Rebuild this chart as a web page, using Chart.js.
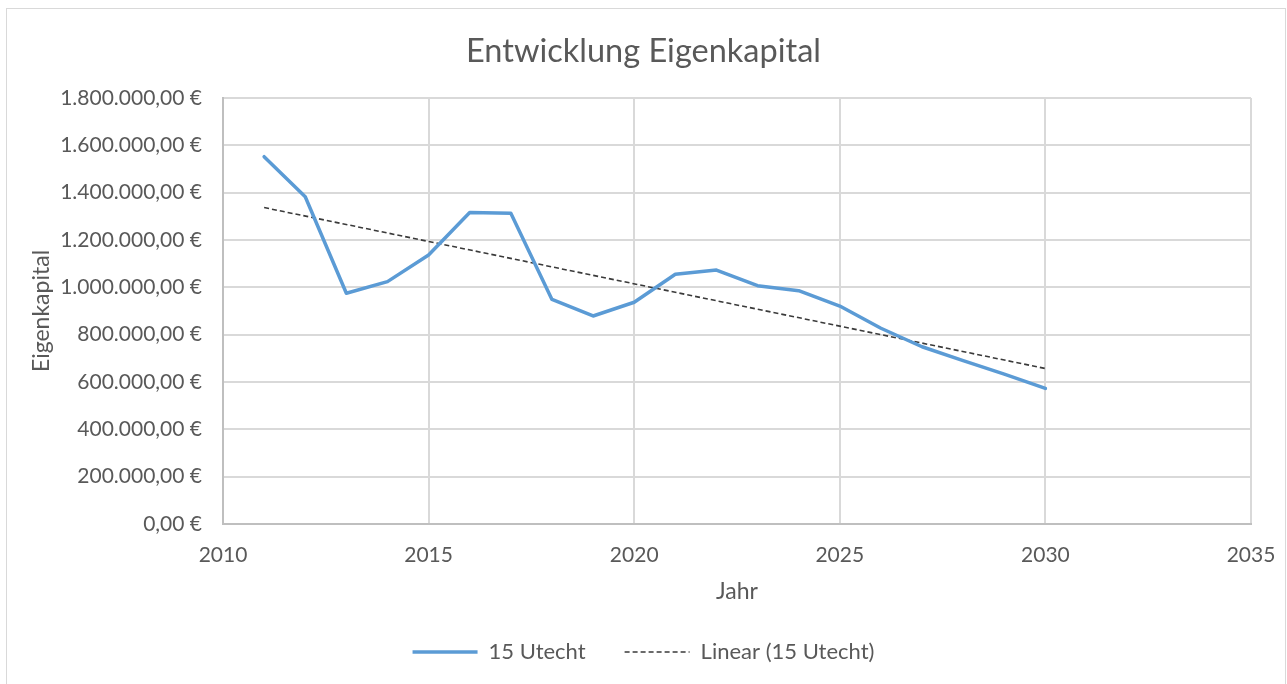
<!DOCTYPE html>
<html><head><meta charset="utf-8">
<script src="https://cdn.jsdelivr.net/npm/chart.js@4.4.1/dist/chart.umd.min.js"></script>
<style>
html,body{margin:0;padding:0;background:#fff;overflow:hidden}
#wrap{position:relative;width:1287px;height:684px}
#frame{position:absolute;left:6px;top:8px;width:1280px;height:720px;border:1px solid #d9d9d9;box-sizing:border-box}
canvas{position:absolute;left:0;top:0}
</style></head><body>
<div id="wrap"><div id="frame"></div><canvas id="c" width="1287" height="684"></canvas></div>
<script>
// ---- data ----
const years = [2011,2012,2013,2014,2015,2016,2017,2018,2019,2020,2021,2022,2023,2024,2025,2026,2027,2028,2029,2030];
const equity = [1552000,1383000,975000,1024000,1137000,1316000,1313000,949000,879000,937000,1055000,1073000,1007000,986000,921000,827000,749000,690000,633000,573000];
const trendYears = [2011, 2030];
const trendValues = [1337000, 657000];
const xTickValues = [2010,2015,2020,2025,2030,2035];
const yTickValues = [0,200000,400000,600000,800000,1000000,1200000,1400000,1600000,1800000];
const seriesName = '15 Utecht';
const trendName = 'Linear (15 Utecht)';
const titleText = 'Entwicklung Eigenkapital';
const xTitle = 'Jahr';
const yTitle = 'Eigenkapital';

// ---- layout constants ----
const W = 1287, H = 684;
const AREA = {left:223, right:1251, top:98, bottom:524};
const FONT = 'Lato';
const TXT = '#595959';
const titleSize = 32.5, tickSize = 21, axisTitleSize = 23, legendSize = 22;
const titleCenterY = 52, legendCenterY = 652, xTitleCenterY = 592, yTitleCenterX = 42;
const legendGap = 39;

function deEuro(v){
  const s = Math.round(v).toString().replace(/\B(?=(\d{3})+(?!\d))/g,'.');
  return s + ',00 €';
}

function draw(){
  const titleLH = titleSize*1.2;
  const titlePadTop = titleCenterY - titleLH/2;
  const titlePadBottom = AREA.top - titlePadTop - titleLH;
  const itemH = legendSize;
  const padB = H - legendCenterY - 10 - itemH/2;
  const legendTop = H - padB - (itemH + legendGap + 10);
  const xAxisH = legendTop - AREA.bottom;
  const axLH = axisTitleSize*1.2;
  const xTitlePadBottom = legendTop - xTitleCenterY - axLH/2;
  const tickLH = tickSize*1.2;
  const baseLabels = Chart.defaults.plugins.legend.labels.generateLabels;

  new Chart(document.getElementById('c'), {
    type: 'line',
    data: {
      datasets: [
        {
          label: seriesName,
          data: years.map((y,i)=>({x:y, y:equity[i]})),
          borderColor: '#5b9bd5',
          backgroundColor: '#5b9bd5',
          borderWidth: 3.5,
          pointRadius: 0,
          borderJoinStyle: 'round',
          borderCapStyle: 'round',
          tension: 0,
          fill: false
        },
        {
          label: trendName,
          data: trendYears.map((y,i)=>({x:y, y:trendValues[i]})),
          borderColor: '#3a3a3a',
          backgroundColor: '#3a3a3a',
          borderWidth: 1.6,
          borderDash: [5,3],
          pointRadius: 0,
          tension: 0,
          fill: false
        }
      ]
    },
    options: {
      responsive: false,
      animation: false,
      devicePixelRatio: 1,
      layout: {padding: {left:0, top:0, right:0, bottom: padB}},
      plugins: {
        title: {
          display: true, text: titleText, color: TXT,
          font: {family: FONT, size: titleSize, weight: 'normal', lineHeight: 1.2},
          padding: {top: titlePadTop, bottom: titlePadBottom}
        },
        legend: {
          display: true, position: 'bottom',
          labels: {
            color: TXT, font: {family: FONT, size: legendSize},
            usePointStyle: true, pointStyle: 'line', pointStyleWidth: 65,
            padding: legendGap,
            generateLabels: chart => baseLabels(chart).map(l => {
              const ds = chart.data.datasets[l.datasetIndex];
              l.lineDash = ds.borderDash || [];
              l.lineWidth = ds.borderWidth;
              l.strokeStyle = ds.borderColor;
              l.lineCap = 'butt';
              return l;
            })
          }
        },
        tooltip: {enabled: false}
      },
      scales: {
        x: {
          type: 'linear', min: 2010, max: 2035,
          afterBuildTicks: s => { s.ticks = xTickValues.map(v=>({value:v})); },
          afterFit: s => { s.height = xAxisH; s.paddingRight = W - AREA.right; s.paddingLeft = 0; },
          ticks: {color: TXT, font: {family: FONT, size: tickSize, lineHeight: 1.2}, padding: 555 - AREA.bottom - tickLH/2, maxRotation: 0, callback: v => String(v)},
          grid: {color: '#d9d9d9', lineWidth: 2, drawTicks: false},
          border: {color: '#bfbfbf', width: 2},
          title: {display: true, text: xTitle, color: TXT, font: {family: FONT, size: axisTitleSize, lineHeight: 1.2}, padding: {top: 0, bottom: xTitlePadBottom}}
        },
        y: {
          type: 'linear', min: 0, max: 1800000,
          afterBuildTicks: s => { s.ticks = yTickValues.map(v=>({value:v})); },
          afterFit: s => { s.width = AREA.left; },
          ticks: {color: TXT, font: {family: FONT, size: tickSize, lineHeight: 1.2}, padding: 21, callback: v => deEuro(v)},
          grid: {color: '#d9d9d9', lineWidth: 2, drawTicks: false},
          border: {color: '#bfbfbf', width: 2},
          title: {display: true, text: yTitle, color: TXT, font: {family: FONT, size: axisTitleSize, lineHeight: 1.2}, padding: {top: yTitleCenterX - axLH/2, bottom: 0}}
        }
      }
    }
  });
}
if (document.fonts && document.fonts.load) {
  Promise.all([document.fonts.load('20px Lato')]).then(draw, draw);
} else draw();
</script>
</body></html>
